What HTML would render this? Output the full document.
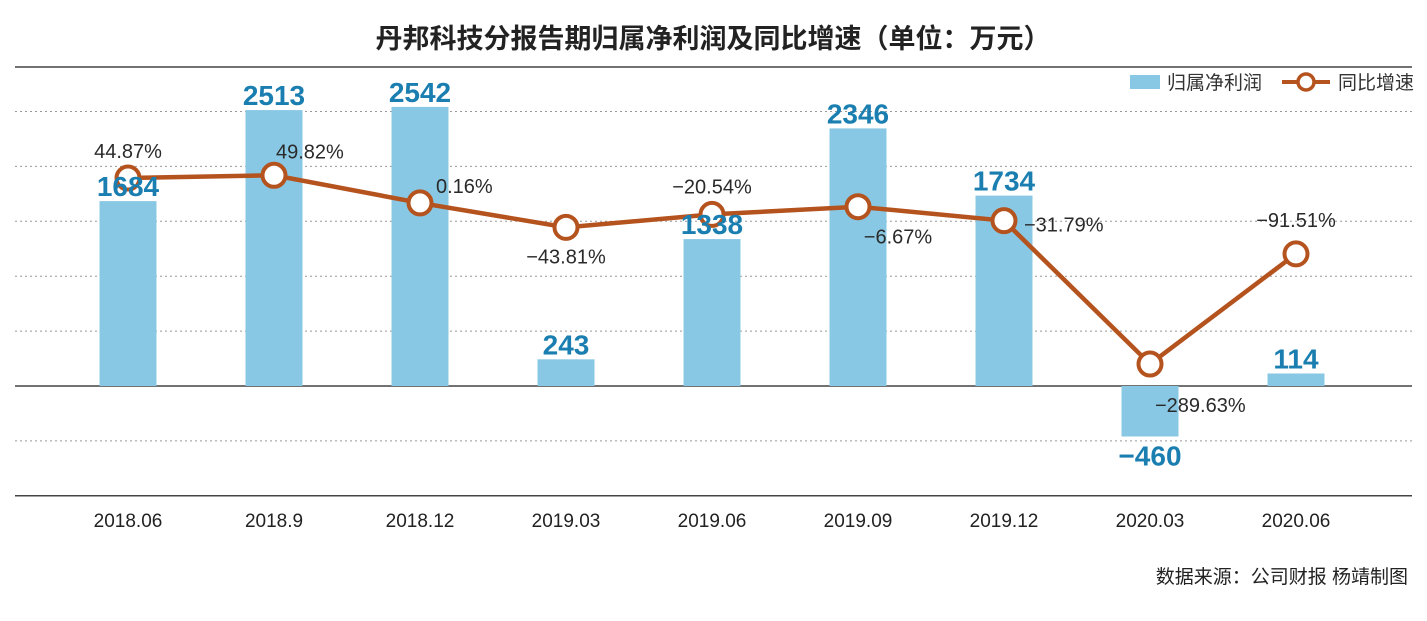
<!DOCTYPE html>
<html><head><meta charset="utf-8">
<style>
body{margin:0;background:#fff;width:1427px;height:616px;overflow:hidden;font-family:"Liberation Sans","Noto Sans CJK SC",sans-serif;}
</style></head><body>
<svg id="chart" width="1427" height="616" xmlns="http://www.w3.org/2000/svg" font-family="Liberation Sans, Noto Sans CJK SC, sans-serif">
<text x="713" y="48" text-anchor="middle" font-size="27" font-weight="bold" fill="#222">丹邦科技分报告期归属净利润及同比增速（单位：万元）</text>
<line x1="15" y1="67" x2="1412" y2="67" stroke="#444" stroke-width="1.5"/>
<g id="grid"></g>
<g id="bars"></g>
<g id="line"></g>
<g id="labels"></g>
<g>
<rect x="1130" y="75" width="30" height="14" fill="#88c8e4"/>
<text x="1167" y="89" font-size="19" fill="#333">归属净利润</text>
<line x1="1282" y1="82" x2="1330" y2="82" stroke="#b5531f" stroke-width="4"/>
<circle cx="1306" cy="82" r="8" fill="#fff" stroke="#b5531f" stroke-width="3.5"/>
<text x="1338" y="89" font-size="19" fill="#333">同比增速</text>
</g>
<text x="1408" y="583" text-anchor="end" font-size="19" fill="#222">数据来源：公司财报  杨靖制图</text>
</svg>
<script>
const categories=["2018.06","2018.9","2018.12","2019.03","2019.06","2019.09","2019.12","2020.03","2020.06"];
const profit=[1684,2513,2542,243,1338,2346,1734,-460,114];
const growth=[44.87,49.82,0.16,-43.81,-20.54,-6.67,-31.79,-289.63,-91.51];
const gridTicks=[2500,2000,1500,1000,500,-500];
const NS="http://www.w3.org/2000/svg";
function xS(i){return 128+i*146;}
function yB(v){return 386-v*0.1098;}
function yL(v){return 203-v*0.556;}
function mk(t,a,p){const e=document.createElementNS(NS,t);for(const k in a)e.setAttribute(k,a[k]);p.appendChild(e);return e;}
const grid=document.getElementById('grid'),bars=document.getElementById('bars'),line=document.getElementById('line'),labels=document.getElementById('labels');
gridTicks.forEach(v=>{const l=mk('line',{x1:15,x2:1412,y1:yB(v),y2:yB(v),stroke:'#999','stroke-width':1,'stroke-dasharray':'2,3'},grid);

});
let z=mk('line',{x1:15,x2:1412,y1:yB(0),y2:yB(0),stroke:'#444','stroke-width':1.5},grid);


let b=mk('line',{x1:15,x2:1412,y1:yB(-1000),y2:yB(-1000),stroke:'#444','stroke-width':1.5},grid);


categories.forEach((c,i)=>{
 const v=profit[i],x=xS(i);
 const r=mk('rect',{x:x-28.5,width:57,y:Math.min(yB(v),yB(0)),height:Math.abs(yB(v)-yB(0)),fill:'#88c8e4'},bars);
 
 
 const t=mk('text',{x:x,y:v>=0?yB(v)-5:yB(v)+29,'text-anchor':'middle','font-size':28,'font-weight':'bold',fill:'#1a7fb0'},labels);
 t.textContent=v<0?'−'+Math.abs(v):v;
 
 
 const xl=mk('text',{x:x,y:527,'text-anchor':'middle','font-size':19,fill:'#222'},labels);
 xl.textContent=c;
 
 
});
const pts=growth.map((v,i)=>xS(i)+','+yL(v)).join(' ');
const pl=mk('polyline',{points:pts,fill:'none',stroke:'#b5531f','stroke-width':4.5},line);


const off=[[0,-20,'middle'],[2,-17,'start'],[16,-10,'start'],[0,36,'middle'],[0,-21,'middle'],[40,37,'middle'],[20,11,'start'],[5,48,'start'],[0,-27,'middle']];
growth.forEach((v,i)=>{
 const c=mk('circle',{cx:xS(i),cy:yL(v),r:11.5,fill:'#fff',stroke:'#b5531f','stroke-width':4},line);
 
 
 const o=off[i];
 const t=mk('text',{x:xS(i)+o[0],y:yL(v)+o[1],'text-anchor':o[2],'font-size':20,fill:'#2a2a2a'},labels);
 t.textContent=(v<0?'−'+Math.abs(v).toFixed(2):v.toFixed(2))+'%';
 
 
});
</script>
</body></html>
